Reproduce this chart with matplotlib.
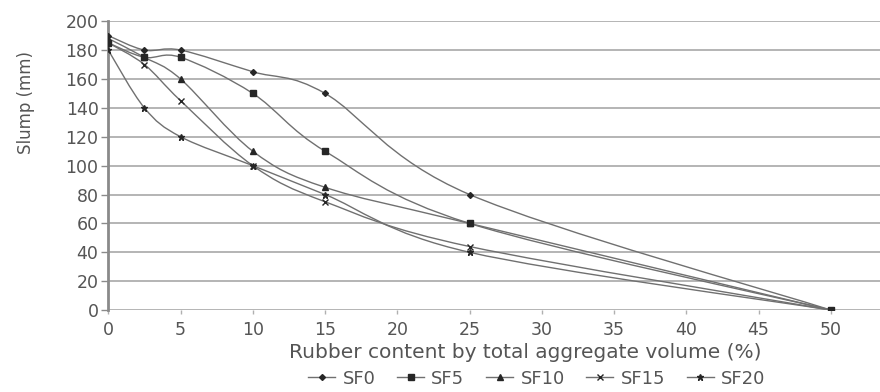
import numpy as np
import matplotlib.pyplot as plt
from matplotlib.path import Path
from matplotlib.patches import PathPatch
from matplotlib.lines import Line2D

plt.rcParams['font.family'] = ['DejaVu Sans']

rubber = [0, 2.5, 5, 10, 15, 25, 50]
sf0 = [190, 180, 180, 165, 150, 80, 0]
sf5 = [185, 175, 175, 150, 110, 60, 0]
sf10 = [188, 175, 160, 110, 85, 60, 0]
sf15 = [185, 170, 145, 100, 75, 44, 0]
sf20 = [180, 140, 120, 100, 80, 40, 0]

names = ['SF0', 'SF5', 'SF10', 'SF15', 'SF20']
series = [sf0, sf5, sf10, sf15, sf20]
markers = ['D', 's', '^', 'x', '*']
msizes = [3, 5, 4.5, 5, 5]

line_c = '#707070'
mark_c = '#262626'
text_c = '#555555'


def smooth_path(x, y):
    # Excel-style smoothed line: cubic bezier segments through the points
    pts = np.column_stack([x, y]).astype(float)
    n = len(pts)
    verts = [pts[0]]
    codes = [Path.MOVETO]
    for i in range(n - 1):
        p0 = pts[i - 1] if i > 0 else pts[i]
        p1 = pts[i]
        p2 = pts[i + 1]
        p3 = pts[i + 2] if i + 2 < n else pts[i + 1]
        c1 = p1 + (p2 - p0) / 6
        c2 = p2 - (p3 - p1) / 6
        verts += [c1, c2, p2]
        codes += [Path.CURVE4] * 3
    return Path(verts, codes)


fig = plt.figure(figsize=(8.8, 3.92), dpi=100)
ax = fig.add_axes([0.123, 0.209, 0.877, 0.737])

handles = []
for name, vals, m, ms in zip(names, series, markers, msizes):
    ax.add_patch(PathPatch(smooth_path(rubber, vals), facecolor='none',
                           edgecolor=line_c, lw=1.0, zorder=3))
    ax.plot(rubber, vals, linestyle='none', marker=m, ms=ms, color=mark_c,
            mew=1.0, zorder=4)
    handles.append(Line2D([], [], color=line_c, lw=1.0, marker=m, ms=ms,
                          markerfacecolor=mark_c, markeredgecolor=mark_c,
                          label=name))

ax.set_xlim(0, 53.4)
ax.set_ylim(0, 200)
ax.set_xticks(range(0, 51, 5))
ax.set_yticks(range(0, 201, 20))
ax.grid(axis='y', color='#a8a8a8', lw=1.2)
ax.set_axisbelow(True)
for s in ['top', 'right', 'bottom']:
    ax.spines[s].set_visible(False)
ax.spines['left'].set_color('#8a8a8a')
ax.spines['left'].set_linewidth(2)
ax.tick_params(axis='y', colors='#8a8a8a', labelcolor=text_c, labelsize=12.5,
               length=5, width=1, pad=2)
ax.tick_params(axis='x', colors='#b0b0b0', labelcolor=text_c, labelsize=12.5,
               length=3, width=1, pad=5)

ax.set_xlabel('Rubber content by total aggregate volume (%)', fontsize=14.5,
              color=text_c)
ax.xaxis.set_label_coords(0.54, -0.115)
ax.set_ylabel('Slump (mm)', fontsize=12, color=text_c)
ax.yaxis.set_label_coords(-0.095, 0.72)

fig.legend(handles=handles, loc='lower center', bbox_to_anchor=(0.61, -0.03),
           ncol=5, frameon=False, fontsize=13, handlelength=1.5,
           handletextpad=0.4, columnspacing=1.2, labelcolor=text_c)

fig.savefig('out.png', dpi=100)
